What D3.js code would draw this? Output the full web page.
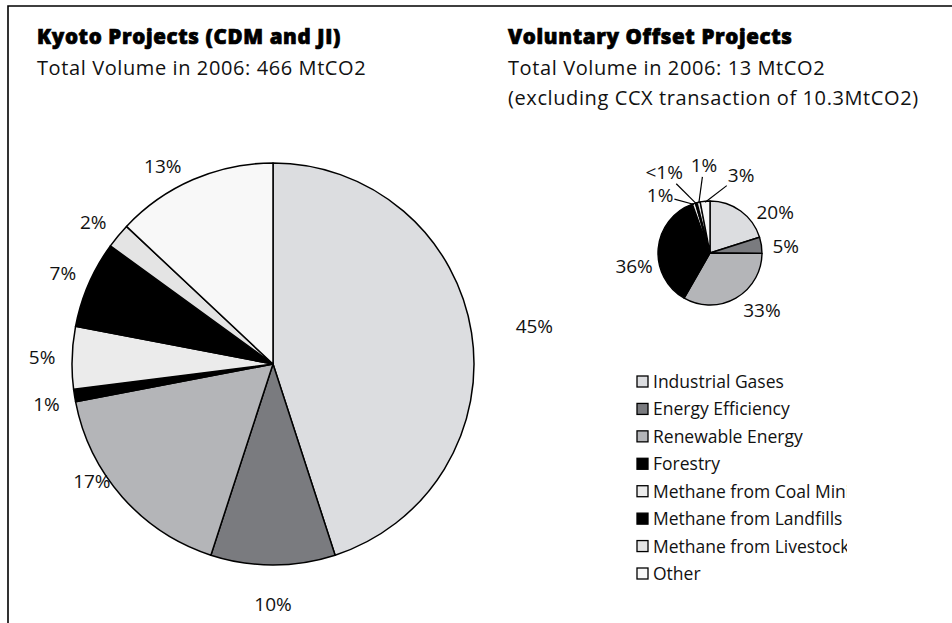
<!DOCTYPE html>
<html>
<head>
<meta charset="utf-8">
<script src="https://cdn.jsdelivr.net/npm/d3@7"></script>
<style>
  html, body { margin: 0; padding: 0; background: #fff; }
  svg { display: block; }
  .t { font-family: "Open Sans", "Noto Sans", sans-serif; fill: #111; }
  .h { font-family: "Open Sans", "Noto Sans", sans-serif; font-weight: 800; fill: #000; stroke: #000; stroke-width: 0.7px; }
</style>
</head>
<body>
<svg id="chart" width="952" height="623"></svg>
<script>
// ---------- data ----------
const categories = ["Industrial Gases", "Energy Efficiency", "Renewable Energy", "Forestry",
  "Methane from Coal Mining", "Methane from Landfills", "Methane from Livestock", "Other"];
const kyotoValues = [45, 10, 17, 1, 5, 7, 2, 13];
const kyotoLabels = ["45%", "10%", "17%", "1%", "5%", "7%", "2%", "13%"];
const voluntaryValues = [20, 5, 33, 36, 1, 0.5, 1, 3];
const voluntaryLabels = ["20%", "5%", "33%", "36%", "1%", "<1%", "1%", "3%"];
const titles = ["Kyoto Projects (CDM and JI)", "Voluntary Offset Projects"];
const subtitles = [["Total Volume in 2006: 466 MtCO2"],
  ["Total Volume in 2006: 13 MtCO2", "(excluding CCX transaction of 10.3MtCO2)"]];

// ---------- style / layout ----------
const colors = ["#dcdde0", "#7a7b7f", "#b4b5b8", "#000000", "#ebebeb", "#000000", "#e4e4e4", "#f8f8f8"];
const svg = d3.select("#chart");

// frame (top and left rule)
svg.append("path").attr("d", "M8,623 L8,6 L952,6")
  .attr("fill", "none").attr("stroke", "#000").attr("stroke-width", 1.6);

// titles
function drawTitle(x, i) {
  svg.append("text").attr("class", "h").attr("x", x).attr("y", 44)
    .attr("font-size", 20.5).attr("letter-spacing", 0.65).text(titles[i]);
  subtitles[i].forEach((s, j) => {
    svg.append("text").attr("class", "t").attr("x", x).attr("y", 75 + j * 30)
      .attr("font-size", 20).attr("letter-spacing", 0.6).text(s);
  });
}
drawTitle(37, 0);
drawTitle(508, 1);

const pie = d3.pie().sort(null).value(d => d);
const deg = Math.PI / 180;
function polar(cx, cy, r, a) { return [cx + r * Math.sin(a), cy - r * Math.cos(a)]; }

// ---------- big pie ----------
const bigC = [273, 364], bigR = 201;
// label placement (angle in degrees clockwise from top, radius in px)
const bigLabelPlace = [{ a: 81.9, r: 264 }, { a: 180, r: 240 }, { a: 237, r: 216 }, { a: 260, r: 230 },
  { a: 271.7, r: 231 }, { a: 293.4, r: 229 }, { a: 308.3, r: 229 }, { a: 330.8, r: 226 }];
const bigArcs = pie(kyotoValues);
const bigArc = d3.arc().innerRadius(0).outerRadius(bigR);
const gBig = svg.append("g").attr("transform", `translate(${bigC[0]},${bigC[1]})`);
gBig.selectAll("path").data(bigArcs).enter().append("path")
  .attr("d", bigArc).attr("fill", (d, i) => colors[i])
  .attr("stroke", "#000").attr("stroke-width", 1.5).attr("stroke-linejoin", "round");
bigArcs.forEach((d, i) => {
  const p = bigLabelPlace[i];
  const [x, y] = polar(bigC[0], bigC[1], p.r, p.a * deg);
  svg.append("text").attr("class", "t").attr("x", x).attr("y", y).attr("dy", "0.35em")
    .attr("text-anchor", "middle").attr("font-size", 19).text(kyotoLabels[i]);
});

// ---------- small pie ----------
const smC = [710, 253], smR = 52;
const smArcs = pie(voluntaryValues);
const smArc = d3.arc().innerRadius(0).outerRadius(smR);
const gSm = svg.append("g").attr("transform", `translate(${smC[0]},${smC[1]})`);
gSm.selectAll("path").data(smArcs).enter().append("path")
  .attr("d", smArc).attr("fill", (d, i) => colors[i])
  .attr("stroke", "#000").attr("stroke-width", 1.4).attr("stroke-linejoin", "round");
// label placement; callout lines for the thin slices
const smLabelPlace = [{ a: 57.8, r: 77 }, { a: 84.7, r: 76 }, { a: 137.6, r: 77 }, { a: 260.3, r: 77 },
  { a: -41, r: 76, line: true }, { a: -29.5, r: 93, line: true }, { a: -3.9, r: 88, line: true }, { a: 21.7, r: 84, line: true }];
smArcs.forEach((d, i) => {
  const mid = (d.startAngle + d.endAngle) / 2;
  const place = smLabelPlace[i];
  const [x, y] = polar(smC[0], smC[1], place.r, place.a * deg);
  const t = svg.append("text").attr("class", "t").attr("x", x).attr("y", y).attr("dy", "0.35em")
    .attr("text-anchor", "middle").attr("font-size", 19).text(voluntaryLabels[i]);
  if (place.line) {
    const bb = t.node().getBBox();
    const [ex, ey] = polar(smC[0], smC[1], smR - 1, mid);
    const cx = bb.x + bb.width / 2, cy = bb.y + bb.height / 2;
    const hw = bb.width / 2 + 1, hh = bb.height / 2 - 1;
    const dx = ex - cx, dy = ey - cy;
    const s = Math.min(Math.abs(hw / (dx || 1e-9)), Math.abs(hh / (dy || 1e-9)));
    svg.append("line").attr("x1", cx + dx * s).attr("y1", cy + dy * s)
      .attr("x2", ex).attr("y2", ey).attr("stroke", "#000").attr("stroke-width", 1.2);
  }
});

// ---------- legend ----------
svg.append("clipPath").attr("id", "legclip").append("rect")
  .attr("x", 600).attr("y", 350).attr("width", 247).attr("height", 260);
const leg = svg.append("g").attr("clip-path", "url(#legclip)");
const legY = d3.scalePoint().domain(categories).range([388, 580]);
categories.forEach((c, i) => {
  const y = legY(c);
  leg.append("rect").attr("x", 637).attr("y", y - 12).attr("width", 11).attr("height", 11)
    .attr("fill", colors[i]).attr("stroke", "#000").attr("stroke-width", 1.3);
  leg.append("text").attr("class", "t").attr("x", 653).attr("y", y)
    .attr("font-size", 17.5).text(c);
});
</script>
</body>
</html>
